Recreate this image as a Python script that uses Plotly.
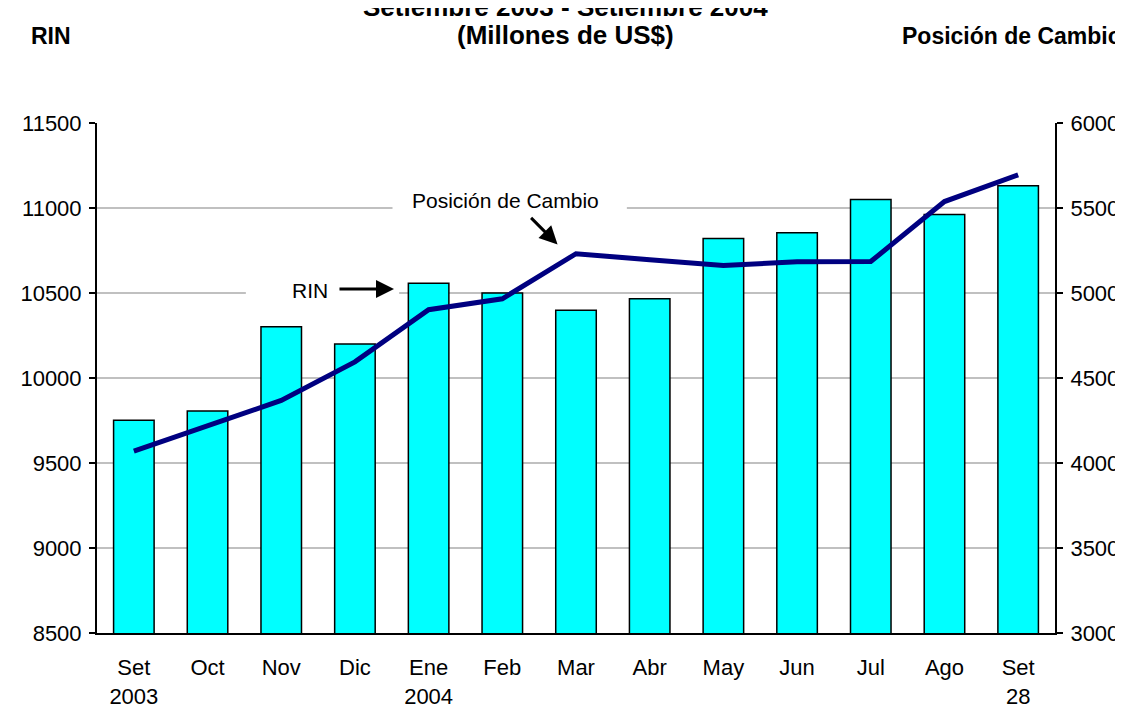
import plotly.graph_objects as go

# Datos: RIN (barras, eje izq.) y Posicion de Cambio (linea, eje der.)
meses = ['Set<br>2003', 'Oct', 'Nov', 'Dic', 'Ene<br>2004', 'Feb', 'Mar',
         'Abr', 'May', 'Jun', 'Jul', 'Ago', 'Set<br>28']
rin = [9752, 9806, 10302, 10200, 10558, 10500, 10398,
       10466, 10821, 10855, 11050, 10962, 11131]
pos_cambio = [4070, 4222, 4368, 4595, 4902, 4966, 5231,
              5196, 5162, 5184, 5185, 5538, 5695]

FONT = 'Liberation Sans, Arial, sans-serif'
pos = list(range(len(meses)))
bordes = [i - 0.5 for i in range(len(meses) + 1)]

fig = go.Figure()
fig.add_trace(go.Bar(x=pos, y=rin, width=0.55, name='RIN',
                     marker=dict(color='#00FFFF', line=dict(color='black', width=1.5))))
fig.add_trace(go.Scatter(x=pos, y=pos_cambio, mode='lines', name='Posición de Cambio',
                         yaxis='y2', line=dict(color='#000080', width=5)))

xr = [-0.5, len(meses) - 0.5]
tick_common = dict(ticklen=6, tickwidth=2, tickcolor='black', zeroline=False)
fig.update_layout(
    width=1123, height=713,
    margin=dict(l=85, r=71, t=115, b=74),
    paper_bgcolor='white', plot_bgcolor='white',
    showlegend=False,
    font=dict(family=FONT, size=22, color='black'),
    xaxis=dict(range=xr, tickvals=pos, ticktext=meses, ticks='',
               showline=True, linecolor='black', linewidth=2,
               showgrid=False, zeroline=False, ticklabelstandoff=14),
    xaxis3=dict(range=xr, overlaying='x', anchor='y', tickvals=bordes, ticks='outside',
                showticklabels=False, showgrid=False, **tick_common),
    xaxis4=dict(range=xr, overlaying='x', anchor='y', tickvals=bordes, ticks='inside',
                showticklabels=False, showgrid=False, **tick_common),
    yaxis=dict(range=[8500, 11500], dtick=500, tickformat='d', ticks='outside',
               showline=True, linecolor='black', linewidth=2,
               showgrid=True, gridcolor='#c0c0c0', gridwidth=1.5,
               ticklabelstandoff=3, **tick_common),
    yaxis3=dict(range=[8500, 11500], dtick=500, overlaying='y', side='left', anchor='x',
                ticks='inside', showticklabels=False, showgrid=False, **tick_common),
    yaxis2=dict(range=[3000, 6000], dtick=500, tickformat='d', overlaying='y',
                side='right', anchor='x', ticks='outside',
                showline=True, linecolor='black', linewidth=2,
                showgrid=False, ticklabelstandoff=3, **tick_common),
    yaxis4=dict(range=[3000, 6000], dtick=500, overlaying='y', side='right', anchor='x',
                ticks='inside', showticklabels=False, showgrid=False, **tick_common),
)

# tapar la grilla detras de los rotulos internos (como en Excel)
fig.add_shape(type='rect', layer='between', x0=1.52, x1=3.6, y0=10480, y1=10530,
              fillcolor='white', line=dict(width=0))
fig.add_shape(type='rect', layer='between', x0=3.51, x1=6.69, y0=10975, y1=11030,
              fillcolor='white', line=dict(width=0))

# titulos (la primera linea queda cortada arriba, como en el original)
fig.add_annotation(text='<b>Setiembre 2003 - Setiembre 2004</b>',
                   xref='paper', yref='paper', x=0.489, y=(639.3 + 4) / 524,
                   showarrow=False, font=dict(size=26), xanchor='center', yanchor='middle')
fig.add_annotation(text='<b>(Millones de US$)</b>',
                   xref='paper', yref='paper', x=0.489, y=(639.3 - 25) / 524,
                   showarrow=False, font=dict(size=26), xanchor='center', yanchor='middle')
fig.add_annotation(text='<b>RIN</b>', xref='paper', yref='paper', x=-0.071, y=1.1704,
                   xanchor='left', yanchor='middle', showarrow=False, font=dict(size=23))
fig.add_annotation(text='<b>Posición de Cambio</b>', xref='paper', yref='paper',
                   x=1.072, y=1.1704, xanchor='right', yanchor='middle', showarrow=False,
                   font=dict(size=23))

# rotulos con flechas dentro del grafico
fig.add_annotation(text='RIN', x=2.39, y=10517, showarrow=False, font=dict(size=21))
fig.add_annotation(text='', x=3.53, y=10523, ax=-56, ay=0, showarrow=True,
                   arrowhead=2, arrowsize=1.2, arrowwidth=3, arrowcolor='black')
fig.add_annotation(text='Posición de Cambio', x=5.05, y=11044, showarrow=False,
                   font=dict(size=21))
fig.add_annotation(text='', x=5.75, y=10786, ax=-28, ay=-28, showarrow=True,
                   arrowhead=2, arrowsize=1.2, arrowwidth=3, arrowcolor='black')

fig.write_html('out.html')
